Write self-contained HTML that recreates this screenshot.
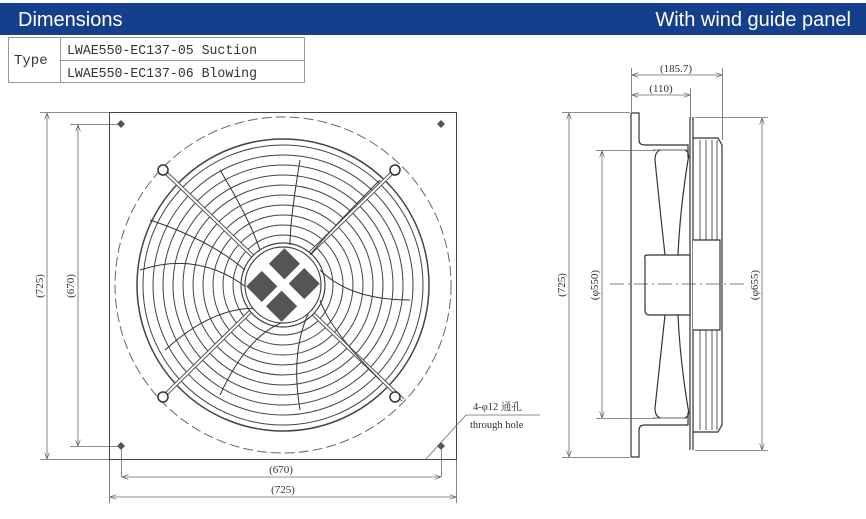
<!DOCTYPE html>
<html><head><meta charset="utf-8"><style>
body{margin:0;background:#fff;width:866px;height:519px;overflow:hidden}
svg{display:block}
.t{font-family:"Liberation Serif","Noto Serif CJK SC",serif;font-size:11px;fill:#333}
.m{font-family:"Liberation Mono",monospace;fill:#333}
</style></head><body>
<svg width="866" height="519" viewBox="0 0 866 519" xmlns="http://www.w3.org/2000/svg">
<defs>
<marker id="a" markerWidth="8" markerHeight="6" refX="8" refY="3" orient="auto-start-reverse"><path d="M0,0 L8,3 L0,6" fill="none" stroke="#555" stroke-width="0.8"/></marker>
</defs>
<rect x="0" y="3" width="866" height="32" fill="#133f8d"/>
<text x="18" y="26" font-family="Liberation Sans,sans-serif" font-size="20" fill="#fff">Dimensions</text>
<text x="851" y="26" font-family="Liberation Sans,sans-serif" font-size="20" fill="#fff" text-anchor="end">With wind guide panel</text>
<g stroke="#999" fill="none" stroke-width="1">
<rect x="8.5" y="37.5" width="296" height="45"/>
<line x1="60.5" y1="37" x2="60.5" y2="83"/>
<line x1="60" y1="60.5" x2="305" y2="60.5"/>
</g>
<text class="m" x="14" y="64" style="font-size:14px">Type</text>
<text class="m" x="67" y="54" style="font-size:13.5px" textLength="190" lengthAdjust="spacingAndGlyphs">LWAE550-EC137-05 Suction</text>
<text class="m" x="67" y="77" style="font-size:13.5px" textLength="190" lengthAdjust="spacingAndGlyphs">LWAE550-EC137-06 Blowing</text>

<g stroke="#444" fill="none" stroke-width="1">
<rect x="109.5" y="112.5" width="347" height="347"/>
<circle cx="283" cy="285" r="168" stroke-dasharray="10,4" stroke="#666"/>
<circle cx="283" cy="285" r="146" stroke-width="1.5"/>
<circle cx="283" cy="285" r="140"/>
<circle cx="283" cy="285" r="130"/>
<circle cx="283" cy="285" r="120"/>
<circle cx="283" cy="285" r="110"/>
<circle cx="283" cy="285" r="100"/>
<circle cx="283" cy="285" r="90"/>
<circle cx="283" cy="285" r="80"/>
<circle cx="283" cy="285" r="70"/>
<circle cx="283" cy="285" r="60"/>
<circle cx="283" cy="285" r="50"/>
<line x1="163" y1="170" x2="403" y2="400" stroke-width="4" stroke="#555"/>
<line x1="163" y1="170" x2="403" y2="400" stroke-width="2" stroke="#fff"/>
<line x1="395" y1="170" x2="163" y2="397" stroke-width="4" stroke="#555"/>
<line x1="395" y1="170" x2="163" y2="397" stroke-width="2" stroke="#fff"/>
<circle cx="283" cy="285" r="42" fill="#fff" stroke-width="1.2"/>
<path d="M140,270 Q200,250 250,290 M165,350 Q220,300 270,310 M220,395 Q250,330 290,320 M300,410 Q290,350 310,310 M380,380 Q330,330 320,300 M410,300 Q350,300 320,270 M380,180 Q330,230 310,255 M300,160 Q290,220 290,245 M220,170 Q250,220 260,250 M150,220 Q210,240 245,270" stroke="#333"/>
<circle cx="283" cy="285" r="38" fill="#fff" stroke-width="1.2"/>
</g>
<g fill="#555">
<rect x="258" y="258" width="22" height="22" transform="rotate(45 283 285)"/>
<rect x="286" y="258" width="22" height="22" transform="rotate(45 283 285)"/>
<rect x="258" y="290" width="22" height="22" transform="rotate(45 283 285)"/>
<rect x="286" y="290" width="22" height="22" transform="rotate(45 283 285)"/>
<g stroke="#333" stroke-width="1.5" fill="#fff">
<circle cx="163" cy="170" r="5"/><circle cx="395" cy="170" r="5"/><circle cx="163" cy="397" r="5"/><circle cx="395" cy="397" r="5"/></g>
<path d="M121,120 l4,4 -4,4 -4,-4z M441,120 l4,4 -4,4 -4,-4z M121,442 l4,4 -4,4 -4,-4z M441,442 l4,4 -4,4 -4,-4z"/>
</g>
<g stroke="#666" stroke-width="0.8" fill="none">
<line x1="40" y1="112.5" x2="109" y2="112.5"/><line x1="40" y1="459.5" x2="109" y2="459.5"/>
<line x1="70" y1="124.5" x2="118" y2="124.5"/><line x1="70" y1="446.5" x2="118" y2="446.5"/>
<line x1="47" y1="113" x2="47" y2="459" marker-start="url(#a)" marker-end="url(#a)"/>
<line x1="78" y1="125" x2="78" y2="446" marker-start="url(#a)" marker-end="url(#a)"/>
<line x1="109.5" y1="460" x2="109.5" y2="503"/><line x1="456.5" y1="460" x2="456.5" y2="503"/>
<line x1="121.5" y1="450" x2="121.5" y2="477"/><line x1="441.5" y1="450" x2="441.5" y2="477"/>
<line x1="122" y1="477" x2="441" y2="477" marker-start="url(#a)" marker-end="url(#a)"/>
<line x1="110" y1="497" x2="456" y2="497" marker-start="url(#a)" marker-end="url(#a)"/>
<line x1="425" y1="460" x2="466" y2="415"/><line x1="466" y1="415" x2="540" y2="415"/>
</g>
<text class="t" x="43" y="286" transform="rotate(-90 43 286)" text-anchor="middle">(725)</text>
<text class="t" x="74" y="286" transform="rotate(-90 74 286)" text-anchor="middle">(670)</text>
<text class="t" x="281" y="473" text-anchor="middle">(670)</text>
<text class="t" x="283" y="493" text-anchor="middle">(725)</text>
<text class="t" x="473" y="410" style="font-size:10.5px">4-φ12 通孔</text>
<text class="t" x="470" y="428" style="font-size:10.5px">through hole</text>

<g stroke="#333" fill="none" stroke-width="1.2">
<path d="M631,113 L639,113 L639,140 Q639,145 645,145 L688,145 L688,157 L690,157"/>
<path d="M631,457 L639,457 L639,430 Q639,425 645,425 L688,425 L688,413 L690,413"/>
<line x1="631" y1="113" x2="631" y2="457"/>
<path d="M690,117 L690,450 M693,117 L693,450"/>
<path d="M693,138 L718,138 L722,145 L722,425 L718,432 L693,432"/>
<path d="M700,140 L700,430 M706,140 L706,430 M712,140 L712,430 M717,140 L717,430" stroke-width="0.8"/>
<path d="M693,240 L720,240 L720,330 L693,330" fill="#fff"/>
<path d="M645,257 Q643,255 650,255 L690,255 L690,315 L650,315 Q645,315 645,310 Z" fill="#fff"/>
<path d="M660,150 Q655,152 655,160 Q660,210 665,255 M685,150 Q690,152 688,160 Q680,210 678,255"/>
<path d="M660,418 Q655,416 655,408 Q660,360 665,315 M685,418 Q690,416 688,408 Q680,360 678,315"/>
<path d="M653,150 L687,150 M653,418 L687,418" stroke-width="0.8"/>
</g>
<line x1="610" y1="284" x2="745" y2="284" stroke="#555" stroke-width="0.8" stroke-dasharray="14,4,2,4"/>
<g stroke="#666" stroke-width="0.8" fill="none">
<line x1="631.5" y1="68" x2="631.5" y2="112"/><line x1="722.5" y1="68" x2="722.5" y2="140"/><line x1="690.5" y1="88" x2="690.5" y2="117"/>
<line x1="632" y1="75" x2="722" y2="75" marker-start="url(#a)" marker-end="url(#a)"/>
<line x1="632" y1="95" x2="690" y2="95" marker-start="url(#a)" marker-end="url(#a)"/>
<line x1="562" y1="112.5" x2="630" y2="112.5"/><line x1="562" y1="457.5" x2="630" y2="457.5"/>
<line x1="569" y1="113" x2="569" y2="457" marker-start="url(#a)" marker-end="url(#a)"/>
<line x1="596" y1="150.5" x2="655" y2="150.5"/><line x1="596" y1="418.5" x2="655" y2="418.5"/>
<line x1="602" y1="151" x2="602" y2="418" marker-start="url(#a)" marker-end="url(#a)"/>
<line x1="695" y1="117.5" x2="768" y2="117.5"/><line x1="695" y1="450.5" x2="768" y2="450.5"/>
<line x1="762" y1="118" x2="762" y2="450" marker-start="url(#a)" marker-end="url(#a)"/>
</g>
<text class="t" x="676" y="72" text-anchor="middle">(185.7)</text>
<text class="t" x="661" y="92" text-anchor="middle">(110)</text>
<text class="t" x="565" y="285" transform="rotate(-90 565 285)" text-anchor="middle">(725)</text>
<text class="t" x="598" y="285" transform="rotate(-90 598 285)" text-anchor="middle">(φ550)</text>
<text class="t" x="758" y="285" transform="rotate(-90 758 285)" text-anchor="middle">(φ655)</text>
</svg>
</body></html>
